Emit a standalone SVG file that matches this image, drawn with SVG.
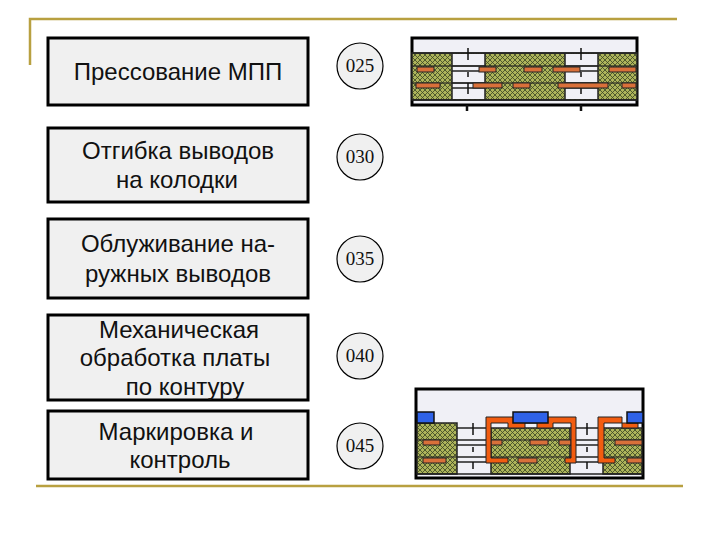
<svg xmlns="http://www.w3.org/2000/svg" width="720" height="540" viewBox="0 0 720 540">
<style>
.box{fill:#f0f0f0;stroke:#000;stroke-width:3}
.c{fill:#f0f0f0;stroke:#000;stroke-width:1.2}
.t{font-family:"Liberation Sans",Arial,sans-serif;font-size:24px;fill:#111;text-anchor:middle}
.n{font-family:"Liberation Serif","Times New Roman",serif;font-size:19px;fill:#111;text-anchor:middle}
.gold{stroke:#b8a040;stroke-width:2.5;fill:none}
.frame{fill:#f0f0f6;stroke:#000;stroke-width:3}
.green{fill:url(#hatch);stroke:#222;stroke-width:1.5}
.gap{fill:#f0f0f6;stroke:none}
.ln{stroke:#222;stroke-width:1.5;fill:none}
.tick{stroke:#111;stroke-width:1.5;fill:none}
.tk2{stroke:#111;stroke-width:2.5;fill:none}
.pad{fill:#d9703a;stroke:#222;stroke-width:1}
.blue{fill:#2f62e8;stroke:#111;stroke-width:1.5}
.cu{fill:#f25c10;stroke:#222;stroke-width:1}
</style>
<defs>
<pattern id="hatch" width="5" height="5" patternUnits="userSpaceOnUse">
<rect width="5" height="5" fill="#adb45a"/>
<path d="M0 0L5 5M5 0L0 5" stroke="#3a4426" stroke-width=".8"/>
</pattern>
</defs>
<rect width="720" height="540" fill="#fff"/>
<path class="gold" d="M30 65V19H677"/>
<path class="gold" d="M36 486H683"/>

<g id="node-pressing"><rect class="box" x="48" y="38" width="260" height="67"/><text class="t" x="178" y="80">Прессование МПП</text></g>
<g id="node-bending"><rect class="box" x="48" y="128" width="260" height="74"/><text class="t" x="178" y="159">Отгибка выводов</text><text class="t" x="177" y="188">на колодки</text></g>
<g id="node-tinning"><rect class="box" x="48" y="219" width="260" height="79"/><text class="t" x="178" y="252">Облуживание на-</text><text class="t" x="178" y="282">ружных выводов</text></g>
<g id="node-milling"><rect class="box" x="48" y="315" width="260" height="85"/><text class="t" x="179" y="338">Механическая</text><text class="t" x="175" y="366">обработка платы</text><text class="t" x="185" y="395">по контуру</text></g>
<g id="node-marking"><rect class="box" x="48" y="411" width="260" height="68"/><text class="t" x="176" y="440">Маркировка и</text><text class="t" x="180" y="468">контроль</text></g>

<g id="step-025"><circle class="c" cx="360" cy="66" r="23"/><text class="n" x="360" y="72">025</text></g>
<g id="step-030"><circle class="c" cx="360" cy="157" r="23"/><text class="n" x="360" y="163">030</text></g>
<g id="step-035"><circle class="c" cx="360" cy="259" r="23"/><text class="n" x="360" y="265">035</text></g>
<g id="step-040"><circle class="c" cx="360" cy="356" r="23"/><text class="n" x="360" y="362">040</text></g>
<g id="step-045"><circle class="c" cx="360" cy="446" r="23"/><text class="n" x="360" y="452">045</text></g>

<g id="board-top">
<rect class="frame" x="412" y="38" width="225" height="67"/>
<rect class="green" x="412" y="53" width="225" height="47"/>
<rect class="gap" x="452" y="54" width="33" height="45"/>
<rect class="gap" x="565" y="54" width="33" height="45"/>
<path class="ln" d="M412 53H637M452 66H485M452 71H485M565 66H598M565 71H598M452 83H485M452 88H485M565 83H598M565 88H598M412 100H637M452 53V100M485 53V100M565 53V100M598 53V100"/>
<path class="ln" d="M412 66H637M412 83H637" stroke-opacity=".75"/>
<path class="tick" d="M468 48V60M468 72V77M468 83V94M581 48V60M581 72V77M581 83V94"/>
<path class="tk2" d="M467 105V111M581 105V111"/>
<rect class="pad" x="417" y="67" width="17" height="5"/><rect class="pad" x="479" y="67" width="17" height="5"/><rect class="pad" x="524" y="67" width="18" height="5"/><rect class="pad" x="553" y="67" width="27" height="5"/><rect class="pad" x="609" y="67" width="27" height="5"/>
<rect class="pad" x="416" y="83" width="24" height="5"/><rect class="pad" x="473" y="83" width="29" height="5"/><rect class="pad" x="513" y="83" width="17" height="5"/><rect class="pad" x="558" y="83" width="50" height="5"/><rect class="pad" x="622" y="83" width="14" height="5"/>
</g>

<g id="board-bottom">
<rect class="frame" x="416" y="389" width="227" height="89"/>
<rect class="green" x="417" y="423" width="40" height="51"/>
<rect class="green" x="491" y="428" width="79" height="46"/>
<rect class="green" x="603" y="428" width="39" height="46"/>
<path class="ln" d="M417 474H642M457 428H491M570 428H603M457 440H491M570 440H603M457 445H491M570 445H603M457 457H491M570 457H603M457 462H491M570 462H603"/>
<path class="ln" d="M417 440H457M417 457H457M491 440H570M491 457H570M603 440H642M603 457H642" stroke-opacity=".7"/>
<path class="tick" d="M473 423V435M473 447V452M473 462V469M587 423V435M587 447V452M587 462V469"/>
<rect class="pad" x="423" y="440" width="17" height="5"/><rect class="pad" x="423" y="458" width="23" height="5"/>
<rect class="pad" x="491" y="440" width="11" height="5"/><rect class="pad" x="530" y="440" width="18" height="5"/><rect class="pad" x="559" y="440" width="12" height="5"/><rect class="pad" x="518" y="458" width="19" height="5"/>
<rect class="pad" x="615" y="440" width="27" height="5"/><rect class="pad" x="627" y="458" width="15" height="5"/>
<path class="cu" d="M486 417H576V463H565V458H571V423H553V428H537V423H525V428H508V423H491V458H508V463H486Z"/>
<path class="cu" d="M598 417H622V423H638V428H622V423H604V458H615V463H598Z"/>
<rect class="blue" x="417" y="412" width="17" height="11"/>
<rect class="blue" x="513" y="412" width="35" height="11"/>
<rect class="blue" x="627" y="412" width="16" height="11"/>
</g>
</svg>
